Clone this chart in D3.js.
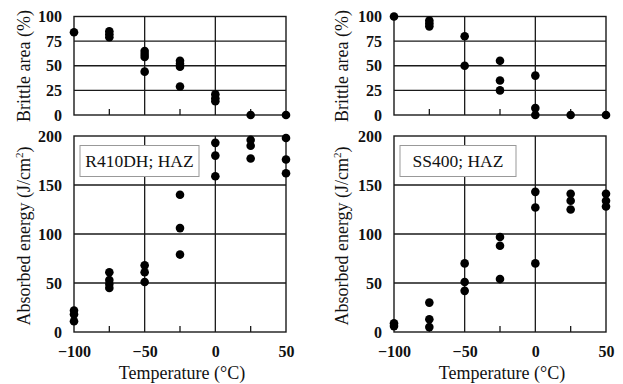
<!DOCTYPE html>
<html>
<head>
<meta charset="utf-8">
<script src="https://cdn.jsdelivr.net/npm/d3@7"></script>
<style>
body { margin: 0; background: #fff; }
text { font-family: "Liberation Serif", "Times New Roman", serif; fill: #111; }
</style>
</head>
<body>
<svg width="623" height="384"></svg>
<script>
// test temperatures (°C) and the values measured at each one
var temps = [-100, -75, -50, -25, 0, 25, 50]

var r410Brittle = [[84], [85, 82, 79], [65, 62, 59, 44], [55, 52, 49, 29], [21, 17, 14], [0], [0]]
var r410Energy = [[22, 18, 11], [61, 53, 49, 45], [68, 61, 51], [140, 106, 79], [193, 180, 159], [196, 190, 177], [198, 176, 162]]

var ssBrittle = [[100], [96, 93, 90], [80, 50], [55, 35, 25], [40, 7, 0], [0], [0]]
var ssEnergy = [[9, 6], [30, 13, 5], [70, 51, 42], [97, 88, 54], [143, 127, 70], [141, 134, 125], [141, 134, 128]]

var xTicks = [-100, -50, 0, 50]
var minorTicks = [-75, -25, 25]
var brittleTicks = [0, 25, 50, 75, 100]
var brittleGrid = [25, 50, 75]
var energyTicks = [0, 50, 100, 150, 200]
var energyGrid = [50, 100, 150]
var vGrid = [-50, 0]

var svg = d3.select('svg')

function flat(series) {
    var pts = []
    series.forEach(function(vals, i) {
        vals.forEach(function(v) { pts.push([temps[i], v]) })
    })
    return pts
}

function tickText(ax) {
    ax.attr('font-family', null).attr('font-size', null)
    ax.select('.domain').remove()
    ax.selectAll('text')
        .attr('font-family', 'Liberation Serif')
        .attr('font-size', 16).attr('font-weight', 'bold').attr('fill', '#111')
}

function plot(g, x, y, grid, ticks, pts) {
    var top = y.range()[1], bottom = y.range()[0]
    var x0 = x.range()[0], x1 = x.range()[1]

    g.selectAll('.hg').data(grid).enter().append('line')
        .attr('x1', x0).attr('x2', x1)
        .attr('y1', function(d) { return y(d) }).attr('y2', function(d) { return y(d) })
        .attr('stroke', '#1a1a1a').attr('stroke-width', 1.3)
    g.selectAll('.vg').data(vGrid).enter().append('line')
        .attr('x1', function(d) { return x(d) }).attr('x2', function(d) { return x(d) })
        .attr('y1', top).attr('y2', bottom)
        .attr('stroke', '#1a1a1a').attr('stroke-width', 1.3)
    g.selectAll('.mt').data(minorTicks).enter().append('line')
        .attr('x1', function(d) { return x(d) }).attr('x2', function(d) { return x(d) })
        .attr('y1', bottom - 6).attr('y2', bottom)
        .attr('stroke', '#1a1a1a').attr('stroke-width', 1.3)
    g.append('rect')
        .attr('x', x0).attr('y', top)
        .attr('width', x1 - x0).attr('height', bottom - top)
        .attr('fill', 'none').attr('stroke', '#1a1a1a').attr('stroke-width', 1.4)

    g.append('g')
        .attr('transform', 'translate(' + x0 + ',0)')
        .call(d3.axisLeft(y).tickValues(ticks).tickSize(0).tickPadding(12))
        .call(tickText)

    g.selectAll('.dot').data(pts).enter().append('circle')
        .attr('cx', function(d) { return x(d[0]) })
        .attr('cy', function(d) { return y(d[1]) })
        .attr('r', 4.3)
        .attr('fill', '#000')
}

function panel(left, brittle, energy, name, boxW, titleX) {
    var g = svg.append('g')
    var x = d3.scaleLinear().domain([-100, 50]).range([left, left + 212])
    var yTop = d3.scaleLinear().domain([0, 100]).range([115, 16.5])
    var yBot = d3.scaleLinear().domain([0, 200]).range([332, 136])

    plot(g, x, yTop, brittleGrid, brittleTicks, flat(brittle))

    // legend box sits under the dots
    var lg = g.append('g')
    plot(g, x, yBot, energyGrid, energyTicks, flat(energy))
    lg.raise()
    g.selectAll('circle').raise()
    lg.append('rect')
        .attr('x', left + 6).attr('y', 145.5)
        .attr('width', boxW).attr('height', 31)
        .attr('fill', '#fff').attr('stroke', '#999').attr('stroke-width', 1)
    lg.append('text')
        .attr('x', left + 6 + boxW / 2).attr('y', 167)
        .attr('text-anchor', 'middle')
        .style('font-size', '17.5px')
        .text(name)

    g.append('g')
        .attr('transform', 'translate(0,332)')
        .call(d3.axisBottom(x).tickValues(xTicks).tickSize(0).tickPadding(14))
        .call(tickText)

    g.append('text')
        .attr('x', left + 108).attr('y', 379)
        .attr('text-anchor', 'middle')
        .style('font-size', '18px')
        .text('Temperature (°C)')

    g.append('text')
        .attr('transform', 'translate(' + titleX + ',66) rotate(-90)')
        .attr('text-anchor', 'middle')
        .style('font-size', '18px')
        .text('Brittle area (%)')

    var t = g.append('text')
        .attr('transform', 'translate(' + titleX + ',236) rotate(-90)')
        .attr('text-anchor', 'middle')
        .style('font-size', '18px')
    t.append('tspan').text('Absorbed energy (J/cm')
    t.append('tspan').attr('dy', -7).style('font-size', '11px').text('2')
    t.append('tspan').attr('dy', 7).text(')')
}

panel(74, r410Brittle, r410Energy, 'R410DH; HAZ', 119, 30)
panel(394, ssBrittle, ssEnergy, 'SS400; HAZ', 116, 348)
</script>
</body>
</html>
